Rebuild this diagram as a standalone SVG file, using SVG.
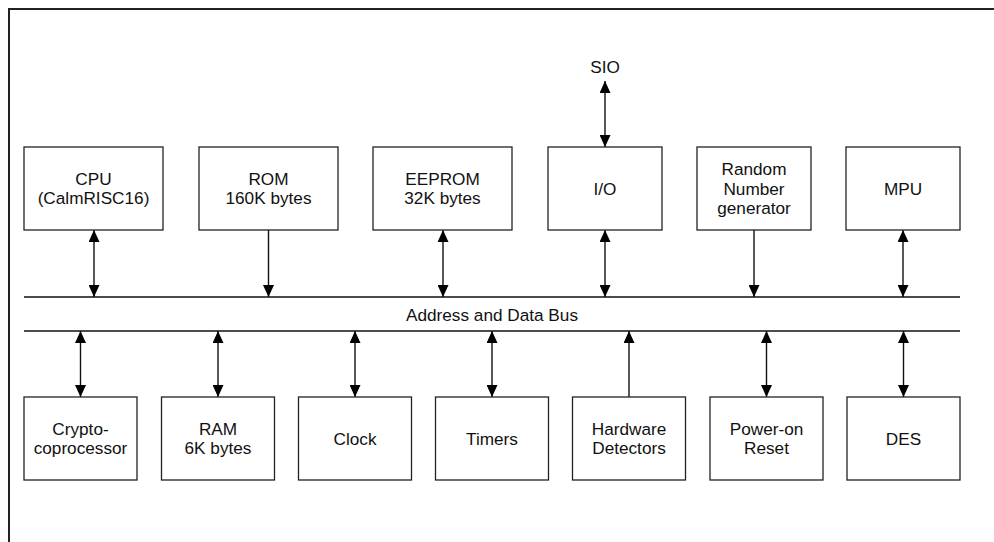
<svg xmlns="http://www.w3.org/2000/svg" width="994" height="542" viewBox="0 0 994 542">
<style>
.box{fill:#fff;stroke:#222;stroke-width:1.3}
.t{font-family:"Liberation Sans",Arial,sans-serif;font-size:17.2px;fill:#111;text-anchor:middle}
.ln{stroke:#111;stroke-width:1.4;fill:none}
.bi{marker-start:url(#ah);marker-end:url(#ah)}
.one{marker-end:url(#ah)}
</style>
<defs>
<marker id="ah" viewBox="0 0 12 11" refX="12" refY="5.5" markerWidth="12" markerHeight="11" markerUnits="userSpaceOnUse" orient="auto-start-reverse">
<path d="M0,0 L12,5.5 L0,11 z" fill="#000"/>
</marker>
</defs>
<rect width="994" height="542" fill="#fff"/>
<path d="M9,542 V9 H994" fill="none" stroke="#222" stroke-width="2"/>

<g id="connectors">
<line class="ln" x1="24" y1="297" x2="960" y2="297"/>
<line class="ln" x1="24" y1="331" x2="960" y2="331"/>
<text class="t" x="492" y="321">Address and Data Bus</text>
<path class="ln bi" d="M94,230 V297"/>
<path class="ln one" d="M268.5,230 V297"/>
<path class="ln bi" d="M443,230 V297"/>
<path class="ln bi" d="M605,230 V297"/>
<path class="ln bi" d="M605,81 V147"/>
<path class="ln one" d="M754,230 V297"/>
<path class="ln bi" d="M903,230 V297"/>
<path class="ln bi" d="M80.5,331 V397"/>
<path class="ln bi" d="M218,331 V397"/>
<path class="ln bi" d="M355,331 V397"/>
<path class="ln bi" d="M492,331 V397"/>
<path class="ln one" d="M629,397 V331"/>
<path class="ln bi" d="M766.5,331 V397"/>
<path class="ln bi" d="M903.5,331 V397"/>
</g>
<text class="t" x="605" y="73">SIO</text>

<g id="cpu"><rect class="box" x="24" y="147" width="139" height="83"/><text class="t" x="93.5" y="185">CPU</text><text class="t" x="93.5" y="204">(CalmRISC16)</text></g>
<g id="rom"><rect class="box" x="199" y="147" width="139" height="83"/><text class="t" x="268.5" y="185">ROM</text><text class="t" x="268.5" y="204">160K bytes</text></g>
<g id="eeprom"><rect class="box" x="373" y="147" width="139" height="83"/><text class="t" x="442.5" y="185">EEPROM</text><text class="t" x="442.5" y="204">32K bytes</text></g>
<g id="io"><rect class="box" x="548" y="147" width="114" height="83"/><text class="t" x="605" y="194.5">I/O</text></g>
<g id="rng"><rect class="box" x="697" y="147" width="114" height="83"/><text class="t" x="754" y="174.5">Random</text><text class="t" x="754" y="194.5">Number</text><text class="t" x="754" y="213.5">generator</text></g>
<g id="mpu"><rect class="box" x="846" y="147" width="114" height="83"/><text class="t" x="903" y="194.5">MPU</text></g>

<g id="crypto"><rect class="box" x="24" y="397" width="113" height="83"/><text class="t" x="80.5" y="434.5">Crypto-</text><text class="t" x="80.5" y="454">coprocessor</text></g>
<g id="ram"><rect class="box" x="161.5" y="397" width="113" height="83"/><text class="t" x="218" y="434.5">RAM</text><text class="t" x="218" y="454">6K bytes</text></g>
<g id="clock"><rect class="box" x="298.5" y="397" width="113" height="83"/><text class="t" x="355" y="444.5">Clock</text></g>
<g id="timers"><rect class="box" x="435.5" y="397" width="113" height="83"/><text class="t" x="492" y="444.5">Timers</text></g>
<g id="hw"><rect class="box" x="572.5" y="397" width="113" height="83"/><text class="t" x="629" y="434.5">Hardware</text><text class="t" x="629" y="454">Detectors</text></g>
<g id="por"><rect class="box" x="710" y="397" width="113" height="83"/><text class="t" x="766.5" y="434.5">Power-on</text><text class="t" x="766.5" y="454">Reset</text></g>
<g id="des"><rect class="box" x="847" y="397" width="113" height="83"/><text class="t" x="903.5" y="444.5">DES</text></g>
</svg>
